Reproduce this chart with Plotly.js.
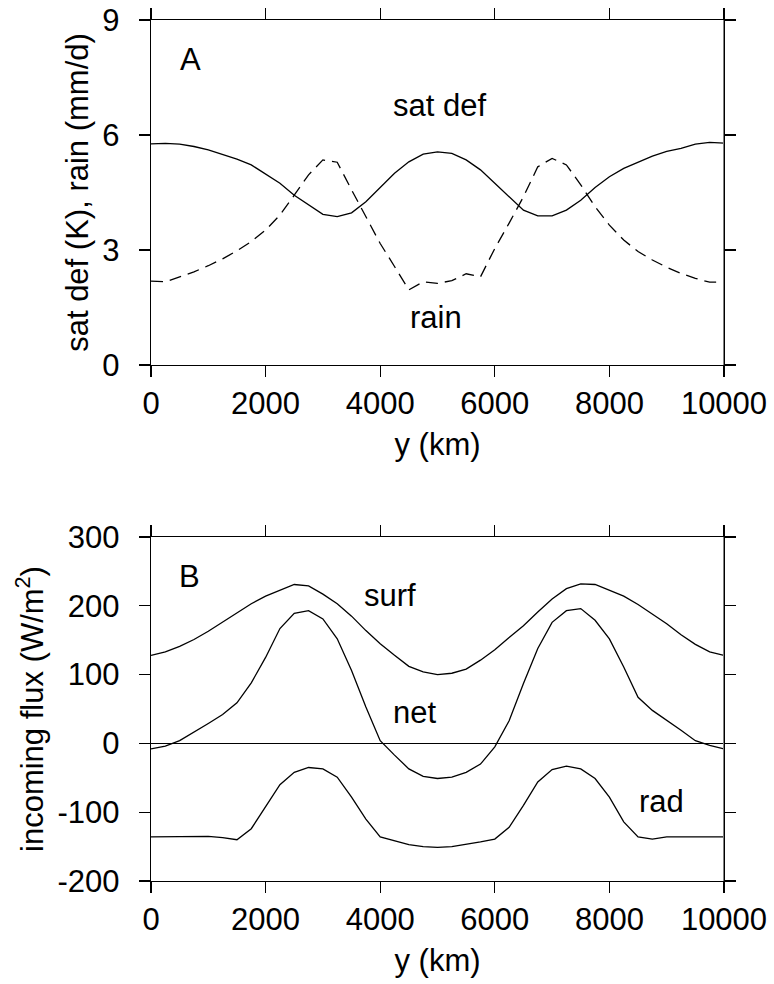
<!DOCTYPE html>
<html>
<head>
<meta charset="utf-8">
<script src="https://cdn.plot.ly/plotly-3.0.1.min.js"></script>
<style>
  html, body { margin: 0; padding: 0; background: #ffffff; }
  #chart { width: 774px; height: 984px; }
</style>
</head>
<body>
<div id="chart"></div>
<script>
// y (km) grid shared by all curves
const yKm = [0, 250, 500, 750, 1000, 1250, 1500, 1750, 2000, 2250, 2500, 2750, 3000, 3250, 3500, 3750, 4000, 4250, 4500, 4750, 5000, 5250, 5500, 5750, 6000, 6250, 6500, 6750, 7000, 7250, 7500, 7750, 8000, 8250, 8500, 8750, 9000, 9250, 9500, 9750, 10000];

// Panel A: saturation deficit (K) and rain (mm/d)
const satDef = [5.77, 5.78, 5.76, 5.70, 5.61, 5.50, 5.37, 5.22, 4.98, 4.74, 4.43, 4.17, 3.93, 3.87, 3.97, 4.26, 4.63, 5.00, 5.30, 5.50, 5.56, 5.52, 5.35, 5.09, 4.74, 4.39, 4.04, 3.89, 3.89, 4.04, 4.30, 4.63, 4.91, 5.13, 5.30, 5.45, 5.57, 5.65, 5.76, 5.81, 5.79];
const rain = [2.19, 2.17, 2.30, 2.43, 2.59, 2.77, 2.98, 3.22, 3.52, 3.91, 4.43, 4.96, 5.35, 5.29, 4.57, 3.87, 3.17, 2.57, 1.96, 2.17, 2.13, 2.20, 2.38, 2.30, 3.04, 3.70, 4.39, 5.17, 5.39, 5.22, 4.70, 4.13, 3.65, 3.26, 2.96, 2.74, 2.55, 2.39, 2.26, 2.16, 2.17];

// Panel B: incoming flux (W/m^2)
const surf = [128, 133, 141, 151, 163, 176, 189, 203, 214, 223, 231, 229, 217, 203, 185, 164, 145, 128, 112, 104, 100, 102, 108, 121, 136, 154, 171, 191, 210, 225, 232, 231, 223, 214, 202, 188, 174, 158, 144, 133, 128];
const net = [-8, -4, 4, 16, 29, 42, 59, 88, 125, 167, 189, 193, 181, 152, 106, 53, 4, -17, -37, -48, -51, -49, -42, -30, -5, 33, 87, 138, 176, 193, 196, 179, 152, 111, 67, 48, 34, 19, 4, -3, -8];
const rad = [-136, -136, -136, -136, -135, -137, -140, -124, -92, -60, -42, -35, -37, -49, -78, -110, -136, -142, -147, -150, -151, -150, -147, -143, -139, -122, -90, -56, -38, -33, -37, -51, -78, -114, -136, -139, -136, -136, -136, -136, -136];

// tick values / labels
const xTicks = [0, 2000, 4000, 6000, 8000, 10000];
const yTicksA = [0, 3, 6, 9];
const yTicksB = [-200, -100, 0, 100, 200, 300];

// curve labels
const labelsA = [
  {text: 'A', x: 690, y: 7.98},
  {text: 'sat def', x: 5040, y: 6.76},
  {text: 'rain', x: 4970, y: 1.25}
];
const labelsB = [
  {text: 'B', x: 680, y: 243},
  {text: 'surf', x: 4170, y: 215},
  {text: 'net', x: 4600, y: 45},
  {text: 'rad', x: 8910, y: -84}
];

const FONT = 'Liberation Sans, Arial, Helvetica, sans-serif';
const FS = 31;
const lineStyle = {color: '#000000', width: 1.3};

const traces = [
  {x: yKm, y: satDef, xaxis: 'x', yaxis: 'y', mode: 'lines', line: lineStyle, name: 'sat def'},
  {x: yKm, y: rain, xaxis: 'x', yaxis: 'y', mode: 'lines', line: {color: '#000000', width: 1.3, dash: '12px,7px'}, name: 'rain'},
  {x: yKm, y: surf, xaxis: 'x2', yaxis: 'y2', mode: 'lines', line: lineStyle, name: 'surf'},
  {x: yKm, y: net, xaxis: 'x2', yaxis: 'y2', mode: 'lines', line: lineStyle, name: 'net'},
  {x: yKm, y: rad, xaxis: 'x2', yaxis: 'y2', mode: 'lines', line: lineStyle, name: 'rad'}
];

const axCommon = {
  showline: true, linecolor: '#000000', linewidth: 1.2,
  mirror: 'ticks', ticks: 'outside', ticklen: 11, tickwidth: 1.2, tickcolor: '#000000',
  showgrid: false, tickfont: {family: FONT, size: FS, color: '#000000'},
  fixedrange: true
};

const annotations = [];
labelsA.forEach(l => annotations.push({text: l.text, x: l.x, y: l.y, xref: 'x', yref: 'y', showarrow: false, xanchor: 'center', yanchor: 'middle', font: {family: FONT, size: FS, color: '#000000'}}));
labelsB.forEach(l => annotations.push({text: l.text, x: l.x, y: l.y, xref: 'x2', yref: 'y2', showarrow: false, xanchor: 'center', yanchor: 'middle', font: {family: FONT, size: FS, color: '#000000'}}));

const layout = {
  width: 774, height: 984,
  margin: {l: 151, r: 50, t: 20, b: 103},
  paper_bgcolor: '#ffffff', plot_bgcolor: '#ffffff',
  showlegend: false,
  font: {family: FONT, size: FS, color: '#000000'},
  xaxis: Object.assign({}, axCommon, {
    anchor: 'y', domain: [0, 1], range: [0, 10000], tickvals: xTicks, ticktext: xTicks.map(String),
    zeroline: false,
    title: {text: 'y (km)', font: {family: FONT, size: FS, color: '#000000'}, standoff: 12}
  }),
  yaxis: Object.assign({}, axCommon, {
    anchor: 'x', domain: [0.5993, 1], range: [0, 9], tickvals: yTicksA, ticktext: yTicksA.map(String),
    zeroline: false, ticklabelstandoff: 13,
    title: {text: 'sat def (K), rain (mm/d)', font: {family: FONT, size: FS, color: '#000000'}, standoff: 4}
  }),
  xaxis2: Object.assign({}, axCommon, {
    anchor: 'y2', domain: [0, 1], range: [0, 10000], tickvals: xTicks, ticktext: xTicks.map(String),
    zeroline: false,
    title: {text: 'y (km)', font: {family: FONT, size: FS, color: '#000000'}, standoff: 12}
  }),
  yaxis2: Object.assign({}, axCommon, {
    anchor: 'x2', domain: [0, 0.3995], range: [-200, 300], tickvals: yTicksB, ticktext: yTicksB.map(String),
    zeroline: true, zerolinecolor: '#000000', zerolinewidth: 1.2, ticklabelstandoff: 13,
    title: {text: 'incoming flux (W/m<sup>2</sup>)', font: {family: FONT, size: FS, color: '#000000'}, standoff: 4}
  }),
  annotations: annotations,
  shapes: [
    {type: 'line', xref: 'x', yref: 'y domain', x0: 10000, x1: 10000, y0: 0, y1: 1, line: {color: '#808080', width: 2}, layer: 'above'},
    {type: 'line', xref: 'x2', yref: 'y2 domain', x0: 10000, x1: 10000, y0: 0, y1: 1, line: {color: '#808080', width: 2}, layer: 'above'}
  ]
};

Plotly.newPlot('chart', traces, layout, {displayModeBar: false, staticPlot: true});
</script>
</body>
</html>
